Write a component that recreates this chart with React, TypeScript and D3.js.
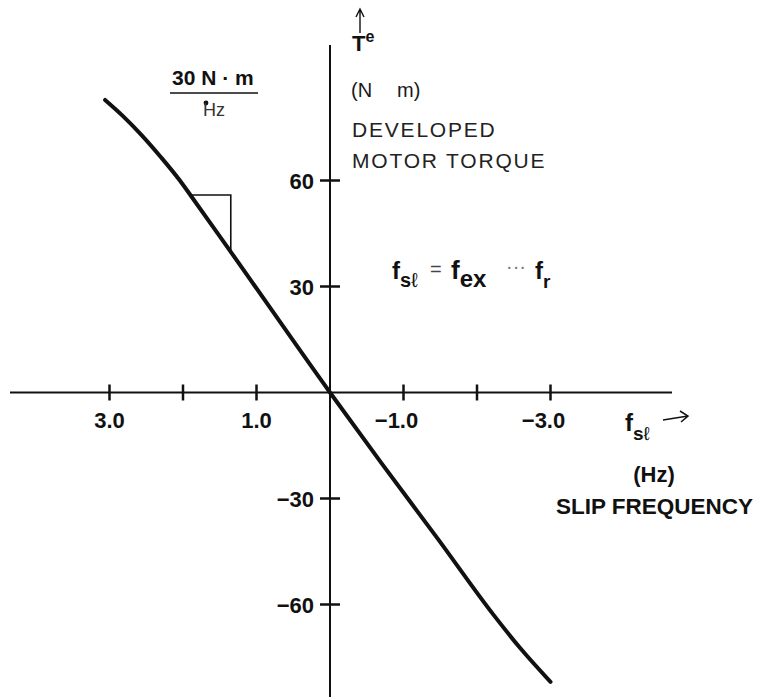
import React from "react";
import * as d3 from "d3";

// Torque–slip characteristic: slip frequency (Hz) vs developed torque (N·m)
const slipHz = [3.06, 2.82, 2.57, 2.3, 2.05, 1.9, 1.35, 0, -0.7, -1.47, -2.22, -2.59, -3.0];
const torqueNm = [82.8, 78.3, 73.0, 66.6, 60.2, 55.9, 39.8, 0, -20.0, -41.5, -62.8, -72.4, -81.9];

// x-axis ticks (all) and the ones that carry a label
const xTicks = [3, 2, 1, -1, -2, -3];
const xTickLabels = ["3.0", "", "1.0", "\u22121.0", "", "\u22123.0"];
// y-axis ticks
const yTicks = [60, 30, -30, -60];
const yTickLabels = ["60", "30", "\u221230", "\u221260"];

// slope triangle: 30 N·m per Hz
const triangleHz = [1.9, 1.35];
const triangleNm = [55.9, 39.8];

const W = 759;
const H = 699;
const FONT = "'Liberation Sans', Arial, Helvetica, sans-serif";
const INK = "#111";

export default function App() {
  const x = d3.scaleLinear().domain([-3, 3]).range([330 + 3 * 73.5, 330 - 3 * 73.5]);
  const y = d3.scaleLinear().domain([-60, 60]).range([392.5 + 212, 392.5 - 212]);

  const pts: [number, number][] = slipHz.map((f, i) => [f, torqueNm[i]]);
  const curve = d3
    .line<[number, number]>()
    .x((d) => x(d[0]))
    .y((d) => y(d[1]))
    .curve(d3.curveMonotoneX)(pts) as string;

  const x0 = x(0);
  const y0 = y(0);

  const tri = d3.path();
  tri.moveTo(x(triangleHz[0]), y(triangleNm[0]));
  tri.lineTo(x(triangleHz[1]), y(triangleNm[0]));
  tri.lineTo(x(triangleHz[1]), y(triangleNm[1]));

  return (
    <svg
      width={W}
      height={H}
      viewBox={`0 0 ${W} ${H}`}
      style={{ position: "absolute", left: 0, top: 0, background: "#fff" }}
      fontFamily={FONT}
    >
      <rect x={0} y={0} width={W} height={H} fill="#fff" />

      {/* axes */}
      <line x1={10} x2={672} y1={y0} y2={y0} stroke={INK} strokeWidth={2} />
      <line x1={x0} x2={x0} y1={45} y2={697} stroke={INK} strokeWidth={2} />

      {/* x ticks */}
      {xTicks.map((t, i) => (
        <g key={`xt${i}`}>
          <line x1={x(t)} x2={x(t)} y1={y0 - 8} y2={y0 + 8} stroke={INK} strokeWidth={2.5} />
          {xTickLabels[i] && (
            <text
              x={x(t) - (t < 0 ? 7 : 0)}
              y={428}
              textAnchor="middle"
              fontSize={22}
              fontWeight="bold"
              fill={INK}
            >
              {xTickLabels[i]}
            </text>
          )}
        </g>
      ))}

      {/* y ticks */}
      {yTicks.map((t, i) => (
        <g key={`yt${i}`}>
          <line x1={x0 - 10} x2={x0 + 10} y1={y(t)} y2={y(t)} stroke={INK} strokeWidth={2.5} />
          <text
            x={x0 - 16}
            y={y(t) + 8}
            textAnchor="end"
            fontSize={22}
            fontWeight="bold"
            fill={INK}
          >
            {yTickLabels[i]}
          </text>
        </g>
      ))}

      {/* torque curve */}
      <path d={curve} fill="none" stroke={INK} strokeWidth={4} strokeLinecap="round" strokeLinejoin="round" />

      {/* slope triangle */}
      <path d={tri.toString()} fill="none" stroke={INK} strokeWidth={1.6} />

      {/* slope annotation */}
      <text x={172} y={85} fontSize={21} fontWeight="bold" fill={INK}>
        30 N · m
      </text>
      <line x1={170} x2={258} y1={93} y2={93} stroke={INK} strokeWidth={1.6} />
      <circle cx={206} cy={103} r={2.4} fill={INK} />
      <text x={203} y={116} fontSize={18} fill="#333">
        Hz
      </text>

      {/* y-axis title */}
      <path d="M360,33 L360,10 M356,17 L360,9 L364,17" fill="none" stroke={INK} strokeWidth={1.4} />
      <text x={352} y={51} fontSize={22} fontWeight="bold" fill={INK}>
        T
        <tspan dy={-9} fontSize={16}>
          e
        </tspan>
      </text>
      <text x={351} y={97} fontSize={20} fill="#1a1a1a">
        (N
      </text>
      <text x={397} y={97} fontSize={20} fill="#1a1a1a">
        m)
      </text>
      <text x={352} y={137} fontSize={21} fill="#222" letterSpacing={1.8}>
        DEVELOPED
      </text>
      <text x={352} y={168} fontSize={21} fill="#222" letterSpacing={1.8}>
        MOTOR TORQUE
      </text>

      {/* relation */}
      <text x={392} y={279} fontSize={24} fontWeight="bold" fill={INK}>
        f
        <tspan dy={8} fontSize={20}>
          s
        </tspan>
        <tspan fontSize={20} fontWeight="normal">
          ℓ
        </tspan>
      </text>
      <text x={430} y={276} fontSize={20} fill="#444">
        =
      </text>
      <text x={451} y={279} fontSize={26} fontWeight="bold" fill={INK}>
        f
        <tspan dy={8} fontSize={24}>
          ex
        </tspan>
      </text>
      <text x={506} y={273} fontSize={20} fill="#777">
        ···
      </text>
      <text x={535} y={279} fontSize={24} fontWeight="bold" fill={INK}>
        f
        <tspan dy={9} fontSize={19}>
          r
        </tspan>
      </text>

      {/* x-axis title */}
      <text x={625} y={431} fontSize={24} fontWeight="bold" fill={INK}>
        f
        <tspan dy={9} fontSize={19}>
          s
        </tspan>
        <tspan fontSize={19} fontWeight="normal">
          ℓ
        </tspan>
      </text>
      <path d="M663,420 L688,416 M680,411 L688,416 L681,422" fill="none" stroke={INK} strokeWidth={1.5} />
      <text x={654} y={482} textAnchor="middle" fontSize={22} fontWeight="bold" fill={INK}>
        (Hz)
      </text>
      <text x={753} y={514} textAnchor="end" fontSize={22.5} fontWeight="bold" fill={INK}>
        SLIP FREQUENCY
      </text>
    </svg>
  );
}
